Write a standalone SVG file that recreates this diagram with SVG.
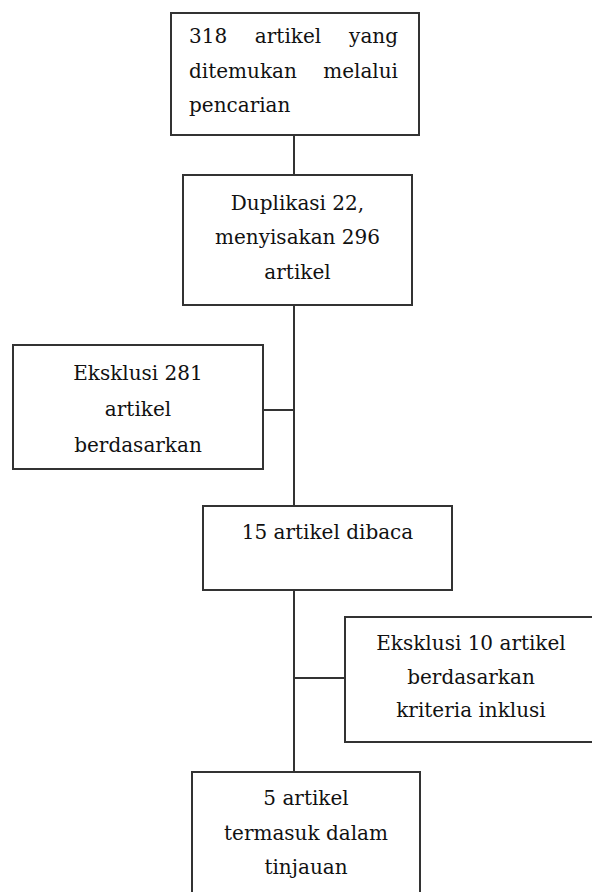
<svg xmlns="http://www.w3.org/2000/svg" width="592" height="892" viewBox="0 0 592 892">
<style>
.box{fill:#fff;stroke:#333;stroke-width:2}
.ln{stroke:#333;stroke-width:2;fill:none}
text{font-family:"DejaVu Serif","Liberation Serif",serif;font-size:20px;fill:#111}
.c{text-anchor:middle}
.e{text-anchor:end}
</style>
<rect width="592" height="892" fill="#fff"/>
<g id="connectors">
<line class="ln" x1="294" y1="135" x2="294" y2="175"/>
<line class="ln" x1="294" y1="305" x2="294" y2="506"/>
<line class="ln" x1="263" y1="410" x2="294" y2="410"/>
<line class="ln" x1="294" y1="590" x2="294" y2="772"/>
<line class="ln" x1="294" y1="678" x2="345" y2="678"/>
</g>
<g id="n1">
<rect class="box" x="171" y="13" width="248" height="122"/>
<text x="189" y="43">318</text><text x="288" y="43" class="c">artikel</text><text x="398" y="43" class="e">yang</text>
<text x="189" y="78">ditemukan</text><text x="398" y="78" class="e">melalui</text>
<text x="189" y="112">pencarian</text>
</g>
<g id="n2">
<rect class="box" x="183" y="175" width="229" height="130"/>
<text x="297.5" y="210" class="c">Duplikasi 22,</text>
<text x="297.5" y="244" class="c">menyisakan 296</text>
<text x="297.5" y="279" class="c">artikel</text>
</g>
<g id="n3">
<rect class="box" x="13" y="345" width="250" height="124"/>
<text x="138" y="380" class="c">Eksklusi 281</text>
<text x="138" y="416" class="c">artikel</text>
<text x="138" y="452" class="c">berdasarkan</text>
</g>
<g id="n4">
<rect class="box" x="203" y="506" width="249" height="84"/>
<text x="327.5" y="539" class="c">15 artikel dibaca</text>
</g>
<g id="n5">
<rect class="box" x="345" y="617" width="250" height="125"/>
<text x="471" y="650" class="c">Eksklusi 10 artikel</text>
<text x="471" y="684" class="c">berdasarkan</text>
<text x="471" y="717" class="c">kriteria inklusi</text>
</g>
<g id="n6">
<rect class="box" x="192" y="772" width="228" height="130"/>
<text x="306" y="805" class="c">5 artikel</text>
<text x="306" y="840" class="c">termasuk dalam</text>
<text x="306" y="874" class="c">tinjauan</text>
</g>
</svg>
